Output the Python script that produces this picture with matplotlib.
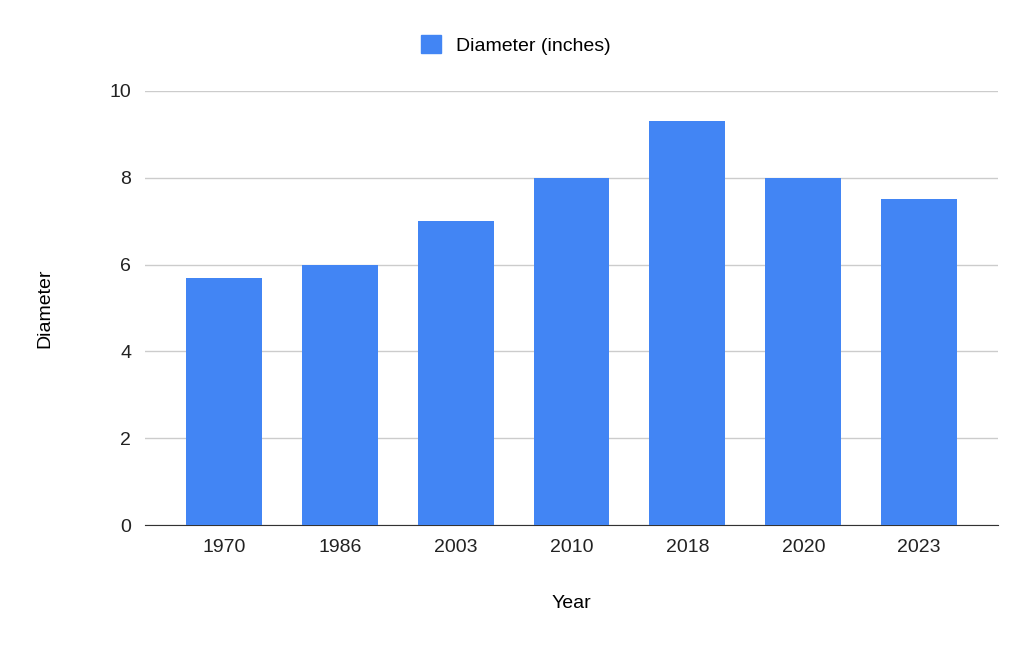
import matplotlib.pyplot as plt
from matplotlib.patches import Patch

years = ["1970", "1986", "2003", "2010", "2018", "2020", "2023"]
diameter = [5.7, 6.0, 7.0, 8.0, 9.3, 8.0, 7.5]

plt.rcParams['font.family'] = ['Arial', 'Liberation Sans', 'DejaVu Sans']

fig = plt.figure(figsize=(10.32, 6.54), dpi=100)
ax = fig.add_axes([145 / 1032, 1 - 525 / 654, (998 - 145) / 1032, (525 - 91) / 654])

x = range(len(years))
ax.bar(x, diameter, width=0.655, color='#4285F4', zorder=3)
ax.set_xticks(list(x))
ax.set_xticklabels(years)
ax.set_xlim(-0.68, len(years) - 1 + 0.68)
ax.set_ylim(0, 10)
ax.set_yticks([0, 2, 4, 6, 8, 10])
ax.grid(axis='y', color='#cccccc', linewidth=1, zorder=0)
for s in ['top', 'right', 'left']:
    ax.spines[s].set_visible(False)
ax.spines['bottom'].set_color('#333333')
ax.tick_params(axis='both', length=0, labelsize=14, colors='#222222', pad=10)
ax.set_xlabel('Year', fontsize=14, labelpad=28)
ax.set_ylabel('Diameter', fontsize=14, labelpad=40)

fig.legend(handles=[Patch(color='#4285F4', label='Diameter (inches)')],
           loc='center', bbox_to_anchor=(0.5, 1 - 45 / 654), frameon=False,
           fontsize=14, handlelength=1.0, handleheight=1.0)

fig.savefig('out.png', dpi=100)
